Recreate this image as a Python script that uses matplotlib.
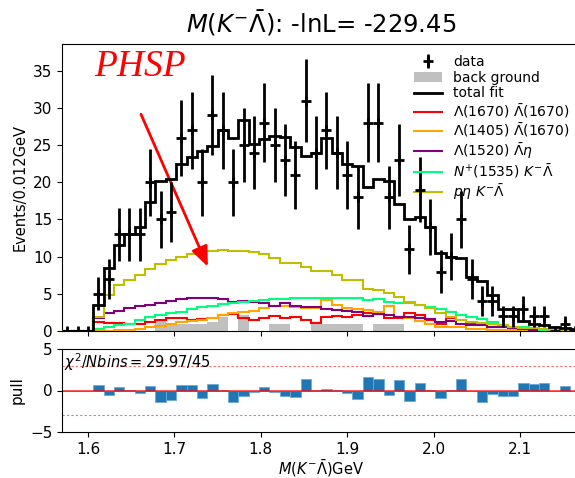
import numpy as np
import matplotlib
matplotlib.use("Agg")
import matplotlib.pyplot as plt

# binning: 50 bins of 12 MeV
bin_lo = 1.57
bin_width = 0.012
n_bins = 50

data_counts = [0, 0, 0, 5, 7, 13, 13, 13, 20, 15,
               16, 26, 27, 20, 29, 27, 20, 25, 24, 28,
               25, 23, 21, 31, 24, 27, 24, 21, 18, 28,
               28, 18, 23, 11, 19, 14, 8, 10, 15, 7,
               4, 4, 2, 2, 3, 2, 2, 0, 1, 0]

total_fit = [0, 0, 0, 3.5, 8.5, 11.5, 13.0, 14.0, 17.4, 20.2,
             20.4, 22.5, 23.4, 24.2, 24.9, 27.0, 26.0, 28.4, 25.2, 25.8,
             26.2, 26.1, 24.7, 23.5, 24.0, 26.0, 24.0, 22.5, 22.2, 19.4,
             20.5, 20.2, 17.1, 15.0, 15.3, 14.0, 10.5, 10.0, 9.8, 7.3,
             6.7, 4.8, 2.9, 2.9, 1.4, 1.0, 0.8, 0.5, 0.4, 0.3]

background = [0, 0, 0, 0, 0, 0, 0, 0, 0, 1.6,
              1.0, 1.0, 0.95, 0.95, 1.25, 1.85, 0, 2.15, 0, 0,
              0.95, 0.95, 0, 0, 0.95, 0.95, 0.95, 0.95, 0.95, 0,
              0.95, 0.95, 0.95, 0, 0, 0, 0, 0, 0, 0,
              0, 0, 0, 0, 0, 0, 0, 0, 0, 0]

lam1670_lam1670 = [0, 0, 0, 1.25, 1.1, 1.1, 0.9, 1.0, 1.25, 1.5,
                   1.7, 1.8, 1.5, 1.6, 1.8, 2.2, 2.3, 1.8, 1.5, 1.7,
                   2.0, 1.7, 1.9, 1.5, 1.1, 1.9, 2.0, 1.9, 2.2, 2.4,
                   2.3, 1.7, 1.7, 2.4, 2.15, 1.5, 1.0, 1.7, 1.5, 1.05,
                   0.8, 0.6, 0.5, 0.4, 0.3, 0.25, 0.15, 0.1, 0.05, 0]

lam1405_lam1670 = [0, 0, 0, 0, 0, 0.1, 0.15, 0.3, 0.6, 0.7,
                   1.0, 1.2, 1.35, 1.5, 1.7, 2.15, 2.4, 2.6, 2.7, 3.05,
                   3.4, 3.4, 3.2, 3.05, 3.05, 4.2, 3.5, 3.05, 3.0, 2.8,
                   2.6, 3.3, 1.9, 1.8, 1.3, 1.0, 0.5, 0.6, 0.6, 0.3,
                   0.3, 0.2, 0.15, 0.1, 0.1, 0.05, 0.03, 0.02, 0.01, 0]

lam1520_lam_eta = [0, 0, 0, 1.7, 2.4, 2.7, 3.05, 3.3, 3.5, 3.8,
                   4.1, 4.3, 4.4, 4.4, 4.4, 4.3, 3.95, 4.1, 3.95, 3.7,
                   3.4, 3.7, 3.4, 3.2, 3.2, 2.9, 2.8, 2.7, 2.6, 2.0,
                   2.3, 2.15, 1.9, 1.9, 1.7, 1.6, 1.25, 1.4, 1.0, 0.85,
                   0.75, 0.6, 0.5, 0.4, 0.3, 0.2, 0.15, 0.1, 0.05, 0.02]

n1535_k_lam = [0, 0, 0, 0.3, 0.6, 0.8, 1.0, 1.5, 1.85, 2.15,
               2.4, 2.6, 2.9, 3.2, 3.4, 3.6, 3.8, 3.95, 4.1, 4.2,
               4.3, 4.3, 4.5, 4.4, 4.5, 4.5, 4.5, 4.4, 4.4, 4.2,
               4.25, 3.96, 3.8, 3.7, 3.5, 3.2, 2.9, 2.5, 2.15, 1.9,
               1.6, 1.27, 0.8, 0.6, 0.5, 0.35, 0.2, 0.13, 0.05, 0.02]

p_eta_k_lam = [0, 0, 0, 1.9, 4.9, 6.2, 6.9, 7.5, 8.3, 9.0,
               9.5, 10.0, 10.4, 10.7, 10.8, 10.9, 10.8, 10.8, 10.6, 10.3,
               9.8, 9.1, 9.1, 8.6, 8.1, 8.1, 7.5, 6.8, 6.8, 5.7,
               5.5, 5.1, 4.6, 3.9, 3.5, 3.05, 2.4, 1.9, 1.5, 1.25,
               1.1, 0.9, 0.75, 0.6, 0.45, 0.35, 0.25, 0.15, 0.1, 0.05]

pull = [0, 0, 0, 0.69, -0.53, 0.41, 0.02, -0.28, 0.57, -1.34,
        -1.1, 0.69, 0.69, -0.93, 0.77, 0.02, -1.34, -0.69, -0.24, 0.41,
        -0.24, -0.65, -0.81, 1.34, 0.02, 0.2, 0.02, -0.33, -1.0, 1.63,
        1.42, -0.53, 1.22, -1.22, 0.85, 0.02, -0.9, 0.02, 1.34, -0.12,
        -1.34, -0.4, -0.65, -0.65, 0.9, 0.73, 0.85, 0, 0.57, 0]

edges = bin_lo + bin_width * np.arange(n_bins + 1)
centers = 0.5 * (edges[:-1] + edges[1:])
counts = np.array(data_counts, dtype=float)

W, H = 575, 478
fig = plt.figure(figsize=(W / 100, H / 100), dpi=100)
x0, x1 = 62.1, 580.5
ax = fig.add_axes([x0 / W, (H - 331) / H, (x1 - x0) / W, (331 - 44) / H])
axp = fig.add_axes([x0 / W, (H - 432) / H, (x1 - x0) / W, (432 - 349) / H], sharex=ax)

h_bg = ax.stairs(background, edges, fill=True, color="#c0c0c0", label="back ground", zorder=1)
h_fit = ax.stairs(total_fit, edges, color="black", lw=2.0, label="total fit", zorder=4)
h_r = ax.stairs(lam1670_lam1670, edges, color="red", lw=1.5,
                label=r"$\Lambda(1670)\ \bar{\Lambda}(1670)$", zorder=3)
h_o = ax.stairs(lam1405_lam1670, edges, color="orange", lw=1.5,
                label=r"$\Lambda(1405)\ \bar{\Lambda}(1670)$", zorder=3)
h_p = ax.stairs(lam1520_lam_eta, edges, color="purple", lw=1.5,
                label=r"$\Lambda(1520)\ \bar{\Lambda}\eta$", zorder=3)
h_g = ax.stairs(n1535_k_lam, edges, color="springgreen", lw=1.5,
                label=r"$N^{+}(1535)\ K^{-}\bar{\Lambda}$", zorder=3)
h_y = ax.stairs(p_eta_k_lam, edges, color="y", lw=1.5,
                label=r"$p\eta\ K^{-}\bar{\Lambda}$", zorder=3)
h_d = ax.errorbar(centers, counts, yerr=np.sqrt(counts), fmt="+", color="black",
                  ms=7, mew=2.0, elinewidth=2.0, label="data", zorder=5)

ax.legend(handles=[h_d, h_bg, h_fit, h_r, h_o, h_p, h_g, h_y],
          loc="upper right", frameon=False, fontsize=10,
          handlelength=2.0, labelspacing=0.12, borderaxespad=0.4)

ax.set_xlim(bin_lo, bin_lo + n_bins * bin_width)
ax.set_ylim(0, 38.6)
ax.set_yticks(np.arange(0, 36, 5))
ax.tick_params(labelbottom=False, labelsize=11)
ax.set_ylabel("Events/0.012GeV", fontsize=10.5)
ax.set_title(r"$M(K^{-}\bar{\Lambda})$: -lnL= -229.45", fontsize=17.5, pad=8)

ax.text(1.607, 34.3, "PHSP", color="red", fontsize=27, fontstyle="italic",
        family="Liberation Serif")
ax.annotate("", xy=(1.740, 8.3), xytext=(1.660, 29.5),
            arrowprops=dict(arrowstyle="-|>,head_width=0.5,head_length=1.2",
                            color="red", lw=2))

axp.bar(centers, pull, width=bin_width, color="#1f77b4", edgecolor="#6fa8d6", lw=0.6)
axp.axhline(0, color="red", lw=1.2, alpha=0.8)
axp.axhline(3, color="red", lw=0.8, ls=(0, (2, 2)), alpha=0.6)
axp.axhline(-3, color="red", lw=0.8, ls=(0, (2, 2)), alpha=0.6)
axp.set_ylim(-5, 5)
axp.set_yticks([-5, 0, 5])
axp.set_xticks([1.6, 1.7, 1.8, 1.9, 2.0, 2.1])
axp.tick_params(labelsize=11)
axp.set_ylabel("pull", fontsize=11)
axp.set_xlabel(r"$M(K^{-}\bar{\Lambda})$GeV", fontsize=10.5, labelpad=1)
axp.text(0.003, 0.97, r"$\chi^2/Nbins = 29.97/45$", transform=axp.transAxes,
         ha="left", va="top", fontsize=10.5)

fig.savefig("out.png", dpi=100)
